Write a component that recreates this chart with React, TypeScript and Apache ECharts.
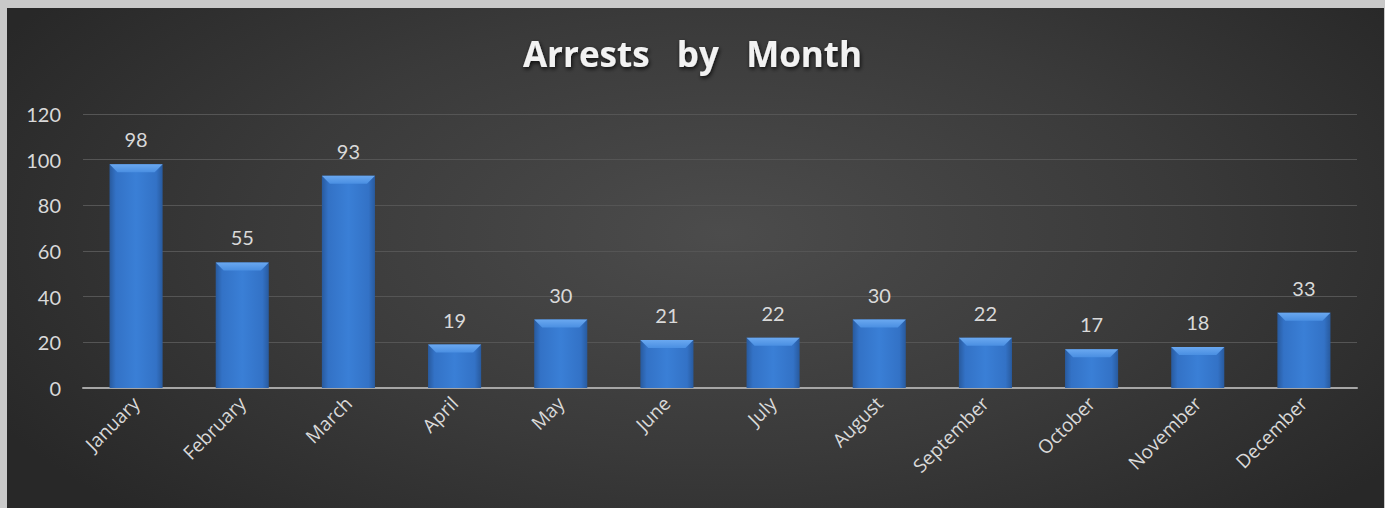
import React, { useEffect, useRef } from "react";
import * as echarts from "echarts";

const categories = ["January", "February", "March", "April", "May", "June", "July", "August", "September", "October", "November", "December"];
const arrests = [98, 55, 93, 19, 30, 21, 22, 30, 22, 17, 18, 33];
const yTicks = { min: 0, max: 120, interval: 20 };
const titleText = "Arrests   by   Month";

export default function App() {
  const ref = useRef<HTMLDivElement>(null);
  useEffect(() => {
    if (!ref.current) return;
    const chart = echarts.init(ref.current, undefined, { renderer: "svg" });
    const font = "Lato, 'Open Sans', sans-serif";
    const wideFont = "'Open Sans', Lato, sans-serif";
    chart.setOption({
      animation: false,
      backgroundColor: "transparent",
      title: {
        text: titleText,
        left: "center",
        top: 31,
        textStyle: {
          color: "#f2f2f2",
          fontSize: 35,
          fontWeight: "bold",
          fontFamily: wideFont,
          textShadowColor: "rgba(0,0,0,0.8)",
          textShadowBlur: 4,
          textShadowOffsetX: 1,
          textShadowOffsetY: 2,
        },
      },
      grid: { left: 83, right: 28, top: 114, bottom: 120 },
      xAxis: {
        type: "category",
        data: categories,
        axisLine: { lineStyle: { color: "#a6a6a6", width: 2 } },
        axisTick: { show: false },
        axisLabel: { rotate: 45, color: "#d9d9d9", fontSize: 19, fontFamily: wideFont, margin: 12, interval: 0 },
      },
      yAxis: {
        type: "value",
        min: yTicks.min,
        max: yTicks.max,
        interval: yTicks.interval,
        axisLine: { show: false },
        axisTick: { show: false },
        axisLabel: { color: "#d9d9d9", fontSize: 20, fontFamily: font, margin: 22 },
        splitLine: { lineStyle: { color: "#555555", width: 1 } },
      },
      series: [
        {
          type: "bar",
          data: arrests,
          barWidth: "50%",
          itemStyle: {
            color: new echarts.graphic.LinearGradient(0, 0, 1, 0, [
              { offset: 0, color: "#285a9e" },
              { offset: 0.12, color: "#3372c6" },
              { offset: 0.5, color: "#3a7fd6" },
              { offset: 0.88, color: "#3372c6" },
              { offset: 1, color: "#285a9e" },
            ]),
          },
          label: {
            show: true,
            position: "top",
            distance: 15,
            color: "#d9d9d9",
            fontSize: 20,
            fontFamily: font,
          },
        },
        {
          type: "custom",
          data: arrests.map((v, i) => [i, v]),
          z: 3,
          silent: true,
          renderItem: (params: any, api: any) => {
            const top = api.coord([api.value(0), api.value(1)]);
            const w = api.size([1, 0])[0] * 0.5;
            const x0 = top[0] - w / 2;
            const x1 = top[0] + w / 2;
            const y = top[1];
            const b = 8;
            return {
              type: "group",
              children: [
                {
                  type: "polygon",
                  shape: { points: [[x0, y], [x1, y], [x1 - b, y + b], [x0 + b, y + b]] },
                  style: {
                    fill: new echarts.graphic.LinearGradient(0, 0, 0, 1, [
                      { offset: 0, color: "#6aa8f0" },
                      { offset: 1, color: "#4a8fe2" },
                    ]),
                  },
                },
              ],
            };
          },
        },
      ],
    });
    return () => chart.dispose();
  }, []);
  return (
    <div style={{ position: "fixed", left: 0, top: 0, width: 1385, height: 508, background: "#c9c9c9" }}>
      <div
        style={{
          position: "absolute",
          left: 7,
          top: 8,
          width: 1377,
          height: 500,
          background: "radial-gradient(ellipse 60% 80% at 52% 45%, #4c4c4c 0%, #3a3a3a 55%, #282828 100%)",
        }}
      />
      <div ref={ref} style={{ position: "absolute", left: 0, top: 0, width: 1385, height: 508 }} />
    </div>
  );
}
